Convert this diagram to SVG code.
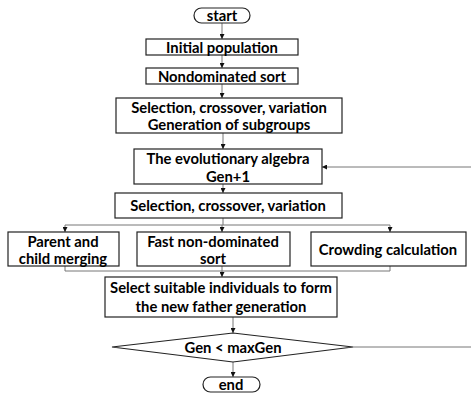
<svg xmlns="http://www.w3.org/2000/svg" width="471" height="396" viewBox="0 0 471 396">
<style>
.b{fill:#fff;stroke:#222;stroke-width:1.2}
.t{font-family:Lato,"Liberation Sans",sans-serif;font-weight:bold;font-size:14.8px;fill:#000;text-anchor:middle}
.c{fill:none;stroke:#777;stroke-width:1}
</style>
<defs>
<marker id="a" viewBox="0 0 6 6" refX="6" refY="3" markerWidth="5" markerHeight="5" orient="auto" markerUnits="userSpaceOnUse"><path d="M0,0 L6,3 L0,6 z" fill="#111"/></marker>
</defs>
<rect width="471" height="396" fill="#fff"/>
<g id="connectors">
<path class="c" d="M222,23 V39" marker-end="url(#a)"/>
<path class="c" d="M222,55 V68" marker-end="url(#a)"/>
<path class="c" d="M222,84 V98" marker-end="url(#a)"/>
<path class="c" d="M223,133 V149" marker-end="url(#a)"/>
<path class="c" d="M223,184 V193" marker-end="url(#a)"/>
<path class="c" d="M223,218 V225"/>
<path class="c" d="M65,225 H390"/>
<path class="c" d="M65,225 V232" marker-end="url(#a)"/>
<path class="c" d="M222,225 V232" marker-end="url(#a)"/>
<path class="c" d="M390,225 V232" marker-end="url(#a)"/>
<path class="c" d="M65,266 V271 H390 V266"/>
<path class="c" d="M222,266 V277" marker-end="url(#a)"/>
<path class="c" d="M233,317 V333" marker-end="url(#a)"/>
<path class="c" d="M233,362 V377" marker-end="url(#a)"/>
<path class="c" d="M353,347 H471"/>
<path class="c" d="M471,167 H322" marker-end="url(#a)"/>
</g>
<g id="start"><rect class="b" x="194" y="8" width="56" height="15" rx="7.5"/><text class="t" x="222" y="20.5">start</text></g>
<g id="init"><rect class="b" x="146" y="39" width="152" height="16"/><text class="t" x="222" y="52.5">Initial population</text></g>
<g id="nondom"><rect class="b" x="146" y="68" width="152" height="16"/><text class="t" x="222" y="81.5">Nondominated sort</text></g>
<g id="sel1"><rect class="b" x="116" y="98" width="226" height="35"/><text class="t" x="229" y="112.5">Selection, crossover, variation</text><text class="t" x="229" y="130">Generation of subgroups</text></g>
<g id="evo"><rect class="b" x="134" y="149" width="188" height="35"/><text class="t" x="228" y="163.5">The evolutionary algebra</text><text class="t" x="228" y="181.5">Gen+1</text></g>
<g id="sel2"><rect class="b" x="115" y="193" width="227" height="25"/><text class="t" x="228" y="210.5">Selection, crossover, variation</text></g>
<g id="parent"><rect class="b" x="8" y="232" width="111" height="34"/><text class="t" x="63" y="246.5">Parent and</text><text class="t" x="63" y="263.5">child merging</text></g>
<g id="fast"><rect class="b" x="137" y="232" width="153" height="34"/><text class="t" x="213" y="246.5">Fast non-dominated</text><text class="t" x="213" y="263.5">sort</text></g>
<g id="crowd"><rect class="b" x="311" y="232" width="155" height="34"/><text class="t" x="388" y="254.5">Crowding calculation</text></g>
<g id="select"><rect class="b" x="105" y="277" width="232" height="40"/><text class="t" x="221" y="292.5">Select suitable individuals to form</text><text class="t" x="221" y="311.5">the new father generation</text></g>
<g id="cond"><polygon class="b" points="112,347 233,333 353,347 233,362"/><text class="t" x="233" y="352.5">Gen &lt; maxGen</text></g>
<g id="end"><rect class="b" x="203" y="377" width="57" height="15" rx="7.5"/><text class="t" x="231" y="389.5">end</text></g>
</svg>
